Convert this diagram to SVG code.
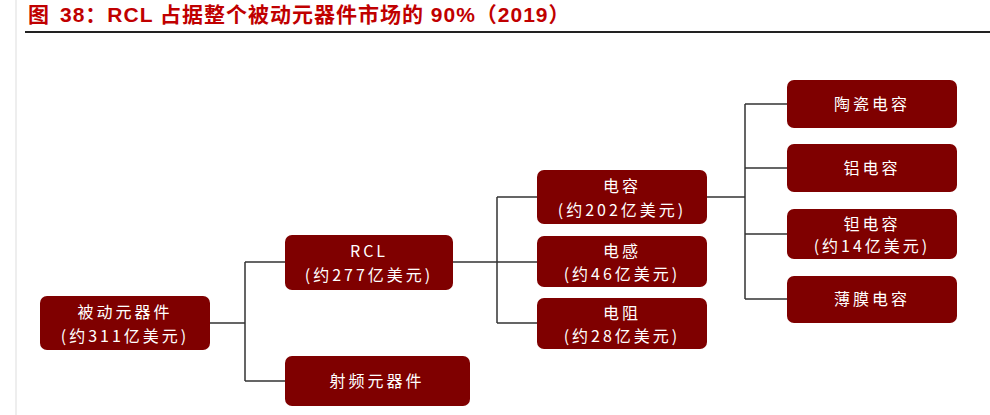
<svg xmlns="http://www.w3.org/2000/svg" width="990" height="415" viewBox="0 0 990 415">
<style>
.n rect{fill:#7f0000;}
.n text{fill:#fff;font-family:"Noto Sans CJK SC","Liberation Sans",sans-serif;font-size:16px;text-anchor:middle;letter-spacing:3px}
.c{stroke:#333;stroke-width:1.5;fill:none}
</style>
<rect width="990" height="415" fill="#fff"/>
<line x1="16" y1="0" x2="16" y2="415" stroke="#ddd" stroke-width="1"/>
<text x="28" y="22" font-family="'Liberation Sans','Noto Sans CJK SC',sans-serif" font-weight="bold" font-size="21" fill="#c00000" letter-spacing="1">图<tspan x="60">38：RCL 占据整个被动元器件市场的 90%（2019）</tspan></text>
<line x1="25" y1="32" x2="990" y2="32" stroke="#222" stroke-width="2"/>
<g id="connectors">
<path class="c" d="M210 323H245M245 262V381M245 262H285M245 381H285"/>
<path class="c" d="M453 262H497M497 197V323M497 197H537M497 262H537M497 323H537"/>
<path class="c" d="M707 197H745M745 104V299M745 104H787M745 168H787M745 234H787M745 299H787"/>
</g>
<g id="n1" class="n"><rect x="40" y="296" width="170" height="54" rx="7"/><text x="125" y="318">被动元器件</text><text x="125" y="342">(约311亿美元)</text></g>
<g id="n2" class="n"><rect x="285" y="235" width="168" height="55" rx="7"/><text x="369" y="257">RCL</text><text x="369" y="281">(约277亿美元)</text></g>
<g id="n3" class="n"><rect x="285" y="356" width="185" height="50" rx="7"/><text x="377" y="387">射频元器件</text></g>
<g id="n4" class="n"><rect x="537" y="170" width="170" height="54" rx="7"/><text x="622" y="192">电容</text><text x="622" y="216">(约202亿美元)</text></g>
<g id="n5" class="n"><rect x="537" y="236" width="170" height="51" rx="7"/><text x="622" y="257">电感</text><text x="622" y="280">(约46亿美元)</text></g>
<g id="n6" class="n"><rect x="537" y="298" width="170" height="51" rx="7"/><text x="622" y="319">电阻</text><text x="622" y="342">(约28亿美元)</text></g>
<g id="n7" class="n"><rect x="787" y="80" width="170" height="48" rx="7"/><text x="872" y="110">陶瓷电容</text></g>
<g id="n8" class="n"><rect x="787" y="144" width="170" height="48" rx="7"/><text x="872" y="174">铝电容</text></g>
<g id="n9" class="n"><rect x="787" y="209" width="170" height="50" rx="7"/><text x="872" y="230">钽电容</text><text x="872" y="252">(约14亿美元)</text></g>
<g id="n10" class="n"><rect x="787" y="276" width="170" height="47" rx="7"/><text x="872" y="305">薄膜电容</text></g>
</svg>
